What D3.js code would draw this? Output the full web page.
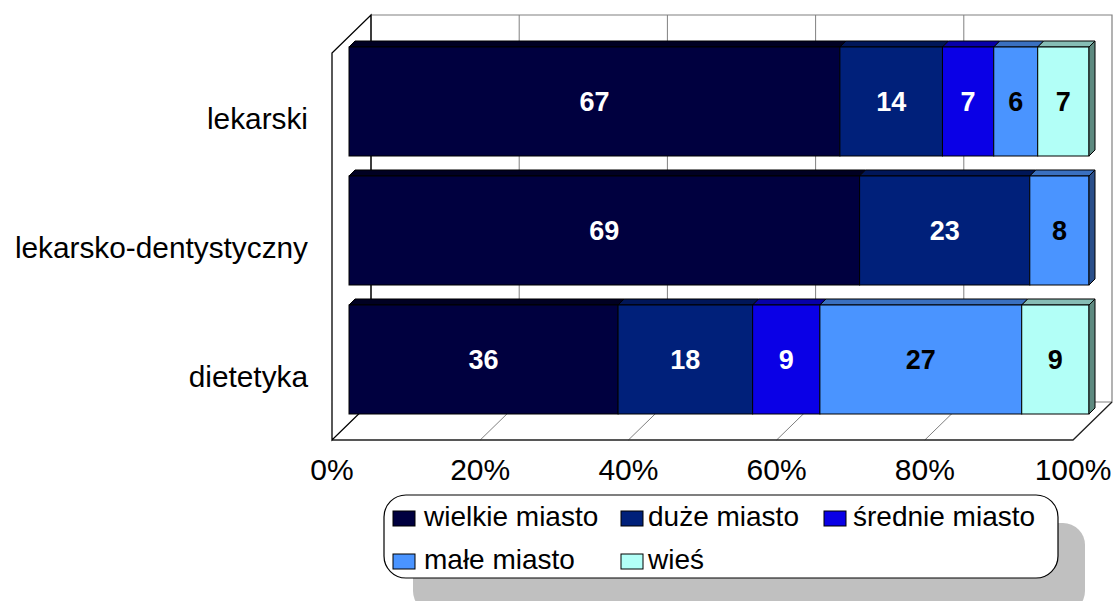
<!DOCTYPE html>
<html><head><meta charset="utf-8">
<script src="https://cdn.jsdelivr.net/npm/d3@7/dist/d3.min.js"></script>
<style>html,body{margin:0;padding:0;background:#fff;}svg{display:block;font-family:"Liberation Sans",Arial,sans-serif;}</style>
</head><body><svg id="c" width="1115" height="601"></svg>
<script>
const categories = ["lekarski", "lekarsko-dentystyczny", "dietetyka"];
const seriesNames = ["wielkie miasto", "duże miasto", "średnie miasto", "małe miasto", "wieś"];
const wielkieMiasto = [67, 69, 36];
const duzeMiasto = [14, 23, 18];
const sredniemiasto = [7, 0, 9];
const maleMiasto = [6, 8, 27];
const wies = [7, 0, 9];
const tickLabels = ["0%", "20%", "40%", "60%", "80%", "100%"];

const seriesValues = [wielkieMiasto, duzeMiasto, sredniemiasto, maleMiasto, wies];
const colors = ["#00003F", "#00207A", "#0A00E6", "#4A94FF", "#B2FFF7"];
const topColors = ["#000022", "#001658", "#0700A8", "#3A70C0", "#86BDB5"];
const sideColors = ["#000018", "#001040", "#05007A", "#2A4F8A", "#5E8A80"];
const labelColors = ["#fff", "#fff", "#fff", "#000", "#000"];

const rows = categories.map((c, i) => {
  const r = {cat: c};
  seriesNames.forEach((s, j) => r[s] = seriesValues[j][i]);
  return r;
});
const stack = d3.stack().keys(seriesNames).offset(d3.stackOffsetExpand);
const stacked = stack(rows);

const svg = d3.select("#c");
// geometry
const front = [332, 1073], back = [371, 1112];
const floorFrontY = 440, floorBackY = 402, wallTopY = 15, leftFrontTopY = 53;
const xFront = d3.scaleLinear().domain([0, 1]).range(front);
const xBack = d3.scaleLinear().domain([0, 1]).range(back);
const xBar = d3.scaleLinear().domain([0, 1]).range([349, 1089]);
const y = d3.scaleBand().domain(categories).range([47, 414]).paddingInner(0.155).paddingOuter(0);
const dd = 6; // bar depth
const ticks = d3.range(0, 1.0001, 0.2);

// back wall
svg.append("path").attr("d", `M${back[0]},${wallTopY}H${back[1]}V${floorBackY}H${back[0]}Z`)
  .attr("fill", "#fff").attr("stroke", "#808080").attr("stroke-width", 1.2);
// back wall gridlines
svg.selectAll(".g").data(ticks.slice(1, -1)).enter().append("line")
  .attr("x1", d => xBack(d)).attr("x2", d => xBack(d)).attr("y1", wallTopY).attr("y2", floorBackY)
  .attr("stroke", "#808080").attr("stroke-width", 1);
// floor gridlines
svg.selectAll(".fg").data(ticks.slice(1, -1)).enter().append("line")
  .attr("x1", d => xFront(d)).attr("y1", floorFrontY).attr("x2", d => xBack(d)).attr("y2", floorBackY)
  .attr("stroke", "#808080").attr("stroke-width", 1);
// floor outline
svg.append("path").attr("d", `M${front[0]},${floorFrontY}H${front[1]}L${back[1]},${floorBackY}`)
  .attr("fill", "none").attr("stroke", "#202020").attr("stroke-width", 1.3);
// left wall
svg.append("path").attr("d", `M${front[0]},${floorFrontY}V${leftFrontTopY}L${back[0]},${wallTopY}V${floorBackY}Z`)
  .attr("fill", "none").attr("stroke", "#000").attr("stroke-width", 1.3);

// bars
stacked.forEach((layer, j) => {
  const g = svg.append("g");
  layer.forEach((d, i) => {
    const v = seriesValues[j][i];
    if (!v) return;
    const x0 = xBar(d[0]), x1 = xBar(d[1]);
    const yt = y(categories[i]), h = y.bandwidth();
    g.append("path").attr("d", `M${x0},${yt}L${x0 + dd},${yt - dd}H${x1 + dd}L${x1},${yt}Z`)
      .attr("fill", topColors[j]).attr("stroke", "#000").attr("stroke-width", 1).attr("stroke-linejoin", "round");
    g.append("rect").attr("x", x0).attr("y", yt).attr("width", x1 - x0).attr("height", h)
      .attr("fill", colors[j]).attr("stroke", "#000").attr("stroke-width", 1);
  });
});
// right side faces on last segment
categories.forEach((c, i) => {
  let last = -1;
  seriesValues.forEach((s, j) => { if (s[i]) last = j; });
  const d = stacked[last][i];
  const x1 = xBar(d[1]), yt = y(c), h = y.bandwidth();
  svg.append("path").attr("d", `M${x1},${yt}L${x1 + dd},${yt - dd}V${yt + h - dd}L${x1},${yt + h}Z`)
    .attr("fill", sideColors[last]).attr("stroke", "#000").attr("stroke-width", 1).attr("stroke-linejoin", "round");
});
// labels
stacked.forEach((layer, j) => {
  layer.forEach((d, i) => {
    const v = seriesValues[j][i];
    if (!v) return;
    svg.append("text").attr("x", (xBar(d[0]) + xBar(d[1])) / 2).attr("y", y(categories[i]) + y.bandwidth() / 2)
      .attr("dy", "0.36em").attr("text-anchor", "middle").attr("font-size", 27).attr("font-weight", "bold")
      .attr("fill", labelColors[j]).text(v);
  });
});
// category labels
svg.selectAll(".cl").data(categories).enter().append("text")
  .attr("x", 308).attr("y", d => y(d) + y.bandwidth() / 2 + 17).attr("dy", "0.35em")
  .attr("text-anchor", "end").attr("font-size", 29.8).attr("fill", "#000").text(d => d);
// tick labels
svg.selectAll(".tl").data(ticks).enter().append("text")
  .attr("x", d => xFront(d)).attr("y", 480).attr("text-anchor", "middle")
  .attr("font-size", 30).attr("fill", "#000").text((d, i) => tickLabels[i]);

// legend
const lg = svg.append("g");
lg.append("rect").attr("x", 413).attr("y", 523).attr("width", 672).attr("height", 90).attr("rx", 22)
  .attr("fill", "#C0C0C0");
lg.append("rect").attr("x", 384).attr("y", 495).attr("width", 674).attr("height", 83).attr("rx", 22)
  .attr("fill", "#fff").attr("stroke", "#000").attr("stroke-width", 1.2);
const legPos = [[393, 511], [621, 511], [824, 511], [393, 554], [621, 554]];
const legTextX = [424, 648, 853, 424, 648];
seriesNames.forEach((s, j) => {
  lg.append("rect").attr("x", legPos[j][0]).attr("y", legPos[j][1]).attr("width", 22).attr("height", 15)
    .attr("fill", colors[j]).attr("stroke", "#000").attr("stroke-width", 1);
  lg.append("text").attr("x", legTextX[j]).attr("y", legPos[j][1] + 15).attr("font-size", 28)
    .attr("fill", "#000").text(s);
});
</script></body></html>
